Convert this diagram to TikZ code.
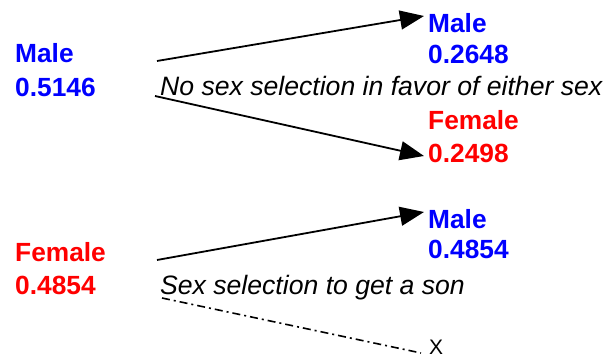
\documentclass[tikz,border=0pt]{standalone}
\usepackage{fontspec}
\setmainfont{Liberation Sans}
\usetikzlibrary{arrows.meta}
\definecolor{myblue}{RGB}{0,0,255}
\definecolor{myred}{RGB}{255,0,0}
\tikzset{
  lbl/.style={anchor=base west, inner sep=0pt, font=\fontsize{26.3}{30}\selectfont\bfseries},
  mlbl/.style={lbl, text=myblue},
  flbl/.style={lbl, text=myred},
  note/.style={anchor=base west, inner sep=0pt, font=\fontsize{26.6}{30}\selectfont\itshape},
  arr/.style={line width=1.8pt, -{Triangle[length=24pt,width=19pt]}},
  dd/.style={line width=1.6pt, dash pattern=on 8pt off 4pt on 2pt off 4pt}
}
\begin{document}
\begin{tikzpicture}[x=1pt,y=-1pt]
\useasboundingbox (0,0) rectangle (603,358);
% top group
\node[mlbl] (m0) at (15,63) {Male};
\node[mlbl] (p0) at (15,97) {0.5146};
\node[mlbl] (m1) at (428,33) {Male};
\node[mlbl] (p1) at (428,64) {0.2648};
\node[note] (n1) at (160,96) {No sex selection in favor of either sex};
\node[flbl] (f1) at (428,130) {Female};
\node[flbl] (q1) at (428,163) {0.2498};
% bottom group
\node[flbl] (f0) at (15,262) {Female};
\node[flbl] (q0) at (15,295) {0.4854};
\node[mlbl] (m2) at (428,229) {Male};
\node[mlbl] (p2) at (428,259) {0.4854};
\node[note] (n2) at (160,295) {Sex selection to get a son};
\node[anchor=base west, inner sep=0pt, font=\fontsize{21}{24}\selectfont] (x) at (429,355) {X};
% connector ends
\coordinate (a1s) at (157,61);
\coordinate (a1e) at (424,16);
\coordinate (a2s) at (155,96);
\coordinate (a2e) at (424,156);
\coordinate (a3s) at (157,260);
\coordinate (a3e) at (424,212);
\coordinate (a4s) at (162,298);
\coordinate (a4e) at (421,353);
\draw[arr] (a1s) -- (a1e);
\draw[arr] (a2s) -- (a2e);
\draw[arr] (a3s) -- (a3e);
\draw[dd] (a4s) -- (a4e);
\end{tikzpicture}
\end{document}
